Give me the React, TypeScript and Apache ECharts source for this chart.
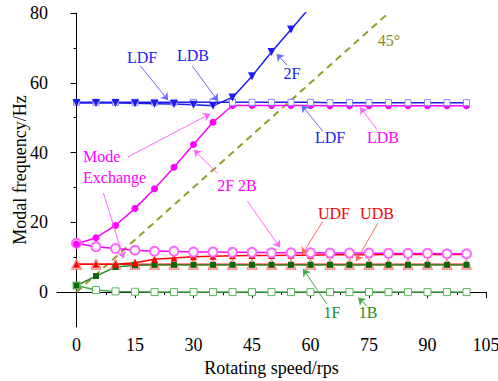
import React, { useEffect, useRef } from "react";
import * as echarts from "echarts";

const speeds = [0, 5, 10, 15, 20, 25, 30, 35, 40, 45, 50, 55, 60, 65, 70, 75, 80, 85, 90, 95, 100];
const ldf2F = [54.2, 54.2, 54.2, 54.1, 54.0, 53.9, 53.7, 53.4, 55.8, 61.9, 68.8, 75.3, 81.8];
const ldbSquares = [54.4, 54.4, 54.4, 54.4, 54.4, 54.4, 54.4, 54.4, 54.4, 54.4, 54.4, 54.4, 54.4, 54.3, 54.3, 54.3, 54.3, 54.3, 54.3, 54.3, 54.3];
const magFilled = [13.8, 15.6, 19.1, 24.0, 29.6, 35.8, 42.3, 48.7, 53.5, 53.5, 53.5, 53.5, 53.5, 53.4, 53.4, 53.4, 53.4, 53.4, 53.4, 53.4, 53.4];
const magOpen = [14.0, 13.0, 12.5, 12.0, 11.7, 11.7, 11.5, 11.5, 11.4, 11.4, 11.3, 11.3, 11.3, 11.2, 11.2, 11.2, 11.1, 11.1, 11.1, 11.0, 11.0];
const udfFilled = [8.0, 8.0, 8.0, 8.4, 9.4, 9.8, 10.1, 10.3, 10.4, 10.5, 10.5, 10.6, 10.6, 10.7, 10.7, 10.7, 10.8, 10.8, 10.8, 10.8, 10.8];
const udbOpen = [8.0, 8.0, 8.0, 8.0, 8.0, 8.0, 8.0, 8.0, 8.0, 8.0, 8.0, 8.0, 8.0, 8.0, 8.0, 8.0, 8.0, 8.0, 8.0, 8.0, 8.0];
const f1Filled = [1.9, 4.6, 7.2, 7.7, 7.8, 7.8, 7.8, 7.8, 7.8, 7.8, 7.8, 7.8, 7.8, 7.8, 7.8, 7.8, 7.8, 7.8, 7.8, 7.8, 7.8];
const b1Open = [1.9, 0.6, 0.2, 0.1, 0.0, 0.0, 0.0, 0.0, 0.0, 0.0, 0.0, 0.0, 0.0, 0.0, 0.0, 0.0, 0.0, 0.0, 0.0, 0.0, 0.0];
const line45 = [[0, 0], [80, 80]];

const xMajorTicks = [0, 15, 30, 45, 60, 75, 90, 105];
const xMinorTicks = [7.5, 22.5, 37.5, 52.5, 67.5, 82.5, 97.5];
const yMajorTicks = [0, 20, 40, 60, 80];
const yMinorTicks = [10, 30, 50, 70];

// annotation arrows: [startSpeed, startFreq, endSpeed, endFreq, color]
const arrows: [number, number, number, number, string][] = [
  [16.4, 64.8, 23.5, 55.0, "#6a6aff"],
  [29.7, 64.8, 36.3, 54.7, "#6a6aff"],
  [54.0, 65.0, 51.3, 68.3, "#6a6aff"],
  [63.2, 46.1, 57.7, 53.6, "#6a6aff"],
  [77.0, 46.7, 72.7, 53.0, "#ff66ff"],
  [13.1, 38.7, 34.3, 51.1, "#ff66ff"],
  [6.9, 28.4, 12.1, 9.6, "#ff66ff"],
  [36.1, 34.1, 30.1, 40.8, "#ff66ff"],
  [43.8, 26.1, 52.2, 12.8, "#ff66ff"],
  [63.2, 20.3, 57.8, 10.8, "#ff6666"],
  [77.3, 19.8, 71.7, 8.9, "#ff6666"],
  [64.2, -3.4, 58.1, 6.6, "#45a845"],
  [74.5, -4.0, 72.2, -1.6, "#45a845"],
];

// annotation texts: [text, x, y, color, align]
const notes: [string, number, number, string, string][] = [
  ["LDF", 142, 57, "#1c1cf0", "center"],
  ["LDB", 193, 55, "#1c1cf0", "center"],
  ["2F", 292, 73, "#1c1cf0", "center"],
  ["45°", 389, 40, "#8c8c1e", "center"],
  ["LDF", 330, 137, "#1c1cf0", "center"],
  ["LDB", 383, 137, "#ff00ff", "center"],
  ["Mode", 83, 156, "#ff00ff", "left"],
  ["Exchange", 83, 177, "#ff00ff", "left"],
  ["2F 2B", 237, 185, "#ff00ff", "center"],
  ["UDF", 334, 213, "#ff0000", "center"],
  ["UDB", 377, 213, "#ff0000", "center"],
  ["1F", 332, 312, "#1f8c1f", "center"],
  ["1B", 368, 312, "#1f8c1f", "center"],
];

const FONT = '"Liberation Serif", "Times New Roman", serif';

function pairs(vals: number[]) {
  return vals.map((v, i) => [speeds[i], v]);
}

export default function App() {
  const ref = useRef<HTMLDivElement>(null);
  useEffect(() => {
    if (!ref.current) return;
    const chart = echarts.init(ref.current, undefined, { renderer: "svg" });
    const axisBase = {
      type: "value",
      axisLine: { show: true, lineStyle: { color: "#000", width: 1 } },
      splitLine: { show: false },
    };
    const option: any = {
      animation: false,
      backgroundColor: "#fff",
      grid: { left: 57, top: 13, width: 429, height: 314, containLabel: false, outerBoundsMode: "none" },
      xAxis: [
        {
          ...axisBase,
          min: -5,
          max: 105,
          position: "bottom",
          axisTick: { show: true, inside: false, length: 6, customValues: xMajorTicks, lineStyle: { color: "#000" } },
          axisLabel: { customValues: xMajorTicks, fontSize: 18, fontFamily: FONT, color: "#000", margin: 9 },
          name: "Rotating speed/rps",
          nameLocation: "middle",
          nameGap: 32,
          nameTextStyle: { fontSize: 18, fontFamily: FONT, color: "#000" },
        },
        {
          ...axisBase,
          min: -5,
          max: 105,
          position: "bottom",
          axisLine: { show: false },
          axisTick: { show: true, inside: false, length: 3, customValues: xMinorTicks, lineStyle: { color: "#000" } },
          axisLabel: { show: false },
        },
      ],
      yAxis: [
        {
          ...axisBase,
          min: -10,
          max: 80,
          position: "left",
          axisTick: { show: true, inside: false, length: 6, customValues: yMajorTicks, lineStyle: { color: "#000" } },
          axisLabel: { customValues: yMajorTicks, fontSize: 18, fontFamily: FONT, color: "#000", margin: 9 },
          name: "Modal frequency/Hz",
          nameLocation: "middle",
          nameGap: 28,
          nameMoveOverlap: false,
          nameTextStyle: { fontSize: 18, fontFamily: FONT, color: "#000" },
        },
        {
          ...axisBase,
          min: -10,
          max: 80,
          position: "left",
          axisLine: { show: false },
          axisTick: { show: true, inside: false, length: 3, customValues: yMinorTicks, lineStyle: { color: "#000" } },
          axisLabel: { show: false },
        },
      ],
      series: [
        {
          type: "line",
          data: line45,
          symbol: "none",
          clip: true,
          lineStyle: { color: "#9a9a2a", width: 2, type: [7, 5] },
          silent: true,
          markLine: {
            silent: true,
            symbol: ["none", "arrow"],
            symbolSize: 7,
            label: { show: false },
            emphasis: { disabled: true },
            data: arrows.map((a) => [
              { coord: [a[0], a[1]], lineStyle: { color: a[4], width: 1, type: "solid" } },
              { coord: [a[2], a[3]] },
            ]),
          },
        },
        {
          type: "line",
          data: pairs(udbOpen),
          symbol: "triangle",
          symbolSize: 10,
          clip: true,
          lineStyle: { color: "#ff2020", width: 1.5 },
          itemStyle: { color: "#ffd4d4", borderColor: "#ff6a6a", borderWidth: 1 },
        },
        {
          type: "line",
          data: pairs(b1Open),
          symbol: "rect",
          symbolSize: 7,
          clip: true,
          lineStyle: { color: "#4aa84a", width: 1.5 },
          itemStyle: { color: "#fff", borderColor: "#5cb85c", borderWidth: 1 },
        },
        {
          type: "line",
          data: pairs(f1Filled),
          symbol: "rect",
          symbolSize: 6,
          clip: true,
          lineStyle: { color: "#2a8a2a", width: 1.5 },
          itemStyle: { color: "#0a6a0a" },
        },
        {
          type: "line",
          data: pairs(udfFilled),
          symbol: "triangle",
          symbolSize: 7,
          clip: true,
          lineStyle: { color: "#ff0000", width: 1.5 },
          itemStyle: { color: "#ff0000" },
        },
        {
          type: "line",
          data: pairs(magOpen),
          symbol: "emptyCircle",
          symbolSize: 9,
          clip: true,
          lineStyle: { color: "#ff00ff", width: 1.5 },
          itemStyle: { color: "#ff66ff", borderColor: "#ff66ff", borderWidth: 1 },
        },
        {
          type: "line",
          data: pairs(magFilled),
          symbol: "circle",
          symbolSize: 7,
          clip: true,
          lineStyle: { color: "#ff00ff", width: 1.5 },
          itemStyle: { color: "#ff00ff" },
        },
        {
          type: "line",
          data: pairs(ldbSquares),
          symbol: "rect",
          symbolSize: 6,
          clip: true,
          lineStyle: { color: "#1c1cf0", width: 1.5 },
          itemStyle: { color: "#fff", borderColor: "#8a8aff", borderWidth: 1 },
        },
        {
          type: "line",
          data: pairs(ldf2F),
          symbol: "triangle",
          symbolRotate: 180,
          symbolSize: 8,
          clip: true,
          lineStyle: { color: "#1c1cf0", width: 1.5 },
          itemStyle: { color: "#1c1cf0" },
        },
      ],
      graphic: notes.map((n) => ({
        type: "text",
        x: n[1],
        y: n[2],
        silent: true,
        z: 100,
        style: {
          text: n[0],
          fill: n[3],
          font: `16px ${FONT}`,
          align: n[4],
          verticalAlign: "middle",
        },
      })),
    };
    chart.setOption(option);
    return () => chart.dispose();
  }, []);
  return (
    <div
      ref={ref}
      style={{ position: "fixed", left: 0, top: 0, width: 498, height: 381, background: "#fff" }}
    />
  );
}
